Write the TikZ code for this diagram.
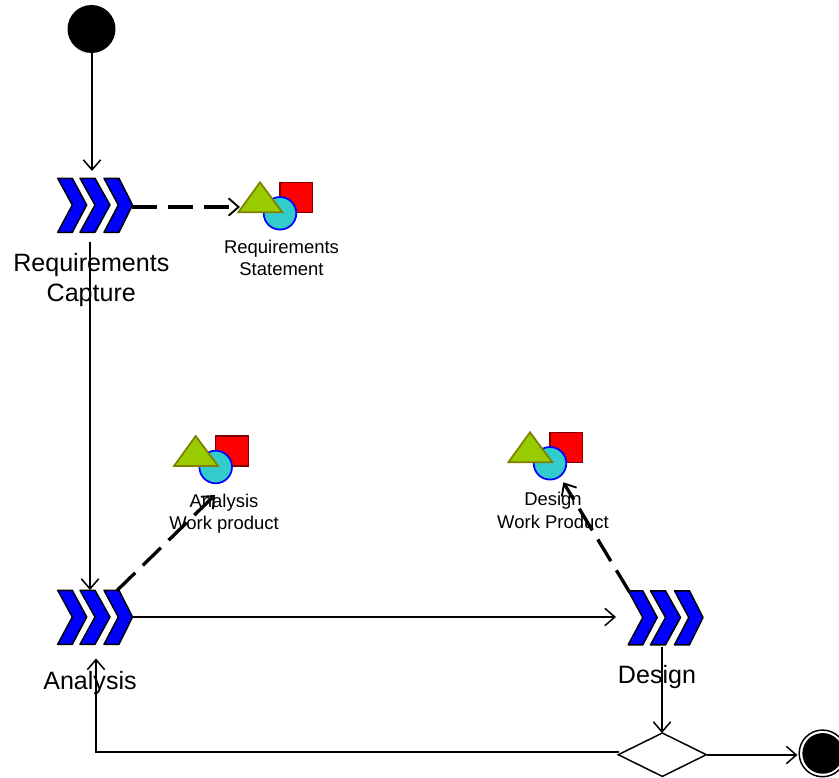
\documentclass[tikz,border=0pt]{standalone}
\usepackage{fontspec}
\setmainfont{Liberation Sans}
\usetikzlibrary{arrows.meta,shapes.geometric}
\definecolor{chevblue}{HTML}{0000FF}
\definecolor{triG}{HTML}{99CC00}
\definecolor{triB}{HTML}{808000}
\definecolor{circF}{HTML}{33CCCC}
\definecolor{sqB}{HTML}{800000}
\tikzset{
  x=0.75pt,y=-0.75pt,
  chev/.style={fill=chevblue,draw=black,line width=1.1pt,line join=round},
  bigtext/.style={font=\fontsize{18.8pt}{22.5pt}\selectfont,align=center,inner sep=0pt},
  smalltext/.style={font=\fontsize{13.85pt}{16.8pt}\selectfont,align=center,inner sep=0pt},
  flow/.style={line width=1.15pt,-{Straight Barb[length=7.5pt,width=13pt,line width=1.15pt]}},
  dep/.style={line width=2.5pt,dash pattern=on 19pt off 8pt,-{Straight Barb[length=7.5pt,width=13pt,line width=1.4pt]}},
  hub/.style={inner sep=0pt,minimum width=56pt,minimum height=40.5pt},
}
\newcommand{\chevrons}[3]{%
  \begin{scope}[shift={(#1,#2)}]
    \draw[chev] (57.7,178.3) -- (72.3,178.3) -- (86.7,205) -- (72.3,232.3) -- (57.7,232.3) -- (72.3,205) -- cycle;
    \draw[chev] (80,178.3) -- (95,178.3) -- (110,205) -- (95,232.3) -- (80,232.3) -- (95,205) -- cycle;
    \draw[chev] (104,178.3) -- (119,178.3) -- (132.5,205) -- (119,232.3) -- (104,232.3) -- (118.3,205) -- cycle;
    \node[hub] (#3) at (95,205.3) {};
  \end{scope}}
\newcommand{\artifact}[3]{%
  \begin{scope}[shift={(#1,#2)}]
    \draw[fill=red,draw=sqB,line width=1.1pt] (280,182.3) rectangle (312.7,212.3);
    \draw[fill=circF,draw=blue,line width=1.3pt] (280,213.3) circle[radius=16.3];
    \draw[fill=triG,draw=triB,line width=1.3pt,line join=miter] (260,182.3) -- (238.3,212.3) -- (282.3,212.3) -- cycle;
    \node[inner sep=0pt,minimum width=56pt,minimum height=36pt] (#3) at (275.5,205.5) {};
  \end{scope}}
\begin{document}
\begin{tikzpicture}
\useasboundingbox (0,0) rectangle (839,778);
\fill[white] (0,0) rectangle (839,778);

\node[bigtext] (lrc) at (91.3,280.5) {Requirements\\Capture};
\node[bigtext] (lan) at (90,683) {Analysis};
\node[bigtext] (lde) at (657,677) {Design};
\node[smalltext] (lrs) at (281.5,258) {Requirements\\Statement};
\node[smalltext] (law) at (224,514) {Analysis\\Work product};
\node[smalltext] (ldw) at (553,510.5) {Design\\Work Product};

\node[circle,fill=black,inner sep=0pt,minimum size=36pt] (start) at (91.5,29) {};
\chevrons{0}{0}{rc}
\chevrons{0}{412}{an}
\chevrons{570.5}{412.5}{de}
\artifact{0}{0}{rs}
\artifact{-64.3}{253.7}{aw}
\artifact{270}{250}{dw}
\node[diamond,aspect=2,draw=black,fill=white,line width=1.1pt,inner sep=0pt,minimum width=66.5pt,minimum height=33pt] (dec) at (662.3,754.7) {};
\node[circle,draw=black,fill=white,line width=1.1pt,inner sep=0pt,minimum size=35pt] (endo) at (822.5,753.4) {};
\node[circle,fill=black,inner sep=0pt,minimum size=30.5pt] (endi) at (822.7,753.4) {};

\coordinate (rcout) at (90,242);
\coordinate (anin) at (90,590);
\coordinate (anback) at (96,658.5);
\coordinate (corner) at (96,752);
\coordinate (decl) at (618.5,752);
\coordinate (decr) at (707,755);
\coordinate (endl) at (797.5,755);
\coordinate (rsdep) at (132,207);
\coordinate (rsin) at (240,207);
\coordinate (andep) at (117,590.5);
\coordinate (awin) at (215,495);
\coordinate (dedep) at (629.5,592);
\coordinate (dwin) at (563.3,482.3);
\coordinate (anout) at (132,617);
\coordinate (dein) at (616,617);
\coordinate (deout) at (662,647);
\coordinate (decin) at (662,733);
\coordinate (startout) at (92,53);
\coordinate (rcin) at (92,171);

\draw[flow] (startout) -- (rcin);
\draw[flow] (rcout) -- (anin);
\draw[flow] (anout) -- (dein);
\draw[flow] (deout) -- (decin);
\draw[flow] (decr) -- (endl);
\draw[flow] (decl) -- (corner) -- (anback);
\draw[dep] (rsdep) -- (rsin);
\draw[dep] (andep) -- (awin);
\draw[dep] (dedep) -- (dwin);
\end{tikzpicture}
\end{document}
